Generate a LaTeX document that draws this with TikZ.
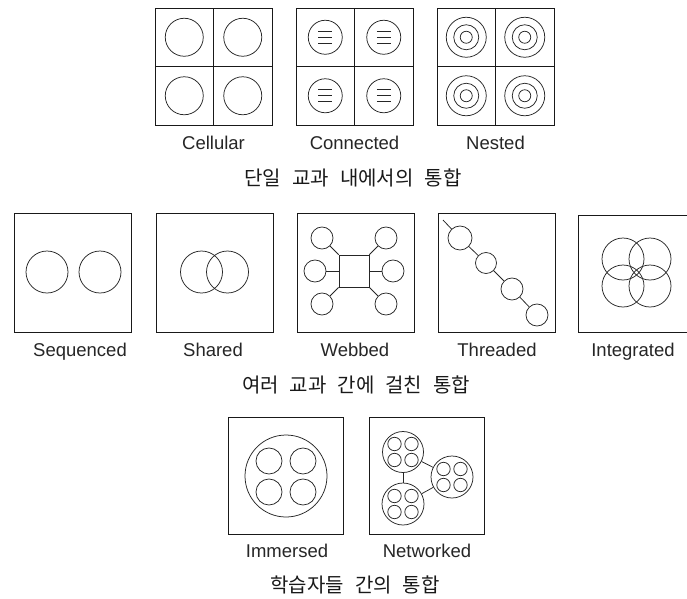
\documentclass[tikz,border=0pt]{standalone}
\usepackage{fontspec}
\setmainfont{Liberation Sans}
\newfontfamily\kr{Noto Sans CJK KR}
\newcommand\ksp{\hspace{11pt}}
\begin{document}
\begin{tikzpicture}[x=1pt,y=-1pt,
  frame/.style={draw=black!90,line width=0.9pt},
  ring/.style={draw=black!85,line width=0.75pt,circle,inner sep=0pt,minimum size=#1},
  arc/.style={draw=black!85,line width=0.75pt},
  link/.style={draw=black!85,line width=0.75pt},
  lbl/.style={font=\fontsize{18.5}{20}\selectfont,anchor=base,text=black!85,inner sep=0pt},
  ttl/.style={font=\kr\fontsize{20}{22}\selectfont,anchor=base,inner sep=0pt,text=black!90}]
\useasboundingbox (0,0) rectangle (687,598);
\fill[white] (0,0) rectangle (687,598);

% ---------- top row: frames with four cells ----------
\foreach \x in {155,296,437}{
  \draw[frame] (\x,8) rectangle (\x+117,125);
  \draw[frame] (\x+58.5,8) -- (\x+58.5,125);
  \draw[frame] (\x,66.5) -- (\x+117,66.5);
}
% Cellular
\foreach \dx in {29.25,87.75}\foreach \dy in {37.25,95.75}{
  \draw[arc] (155+\dx,\dy) circle[radius=19];
}
% Connected
\foreach \dx in {29.25,87.75}\foreach \dy in {37.25,95.75}{
  \draw[arc] (296+\dx,\dy) circle[radius=17];
  \foreach \ly in {-6,0,6}{
    \draw[arc] (296+\dx-7,\dy+\ly) -- (296+\dx+7,\dy+\ly);
  }
}
% Nested
\foreach \dx in {29.25,87.75}\foreach \dy in {37.25,95.75}{
  \draw[arc] (437+\dx,\dy) circle[radius=20];
  \draw[arc] (437+\dx,\dy) circle[radius=12.5];
  \draw[arc] (437+\dx,\dy) circle[radius=6];
}
\node[lbl] (lcel) at (213.5,149) {Cellular};
\node[lbl] (lcon) at (354.5,149) {Connected};
\node[lbl] (lnes) at (495.5,149) {Nested};
\node[ttl] (t1) at (353,185) {단일\ksp 교과\ksp 내에서의\ksp 통합};

% ---------- middle row ----------
\foreach \x in {14,156,297,438}{
  \draw[frame] (\x,213) rectangle (\x+117,332);
}
\draw[frame] (687,215) -- (578,215) -- (578,332) -- (687,332);
% Sequenced
\draw[arc] (47,272) circle[radius=21];
\draw[arc] (100,272) circle[radius=21];
% Shared
\draw[arc] (201.5,272) circle[radius=21];
\draw[arc] (227.5,272) circle[radius=21];
% Webbed
\node[draw=black!85,line width=0.75pt,minimum width=30pt,minimum height=32pt,inner sep=0pt] (hub) at (354,271) {};
\node[ring=22pt] (wtl) at (322,238) {};
\node[ring=22pt] (wtr) at (386,238) {};
\node[ring=22pt] (wml) at (315,271) {};
\node[ring=22pt] (wmr) at (393,271) {};
\node[ring=22pt] (wbl) at (322,304) {};
\node[ring=22pt] (wbr) at (386,304) {};
\draw[link] (hub.north west) -- (wtl);
\draw[link] (hub.north east) -- (wtr);
\draw[link] (hub.west) -- (wml);
\draw[link] (hub.east) -- (wmr);
\draw[link] (hub.south west) -- (wbl);
\draw[link] (hub.south east) -- (wbr);
% Threaded
\coordinate (ts) at (443,220);
\node[ring=24pt] (th1) at (460,238) {};
\node[ring=21pt] (th2) at (486,263) {};
\node[ring=22pt] (th3) at (512,289) {};
\node[ring=22pt] (th4) at (537,315) {};
\draw[link] (ts) -- (th1);
\draw[link] (th1) -- (th2);
\draw[link] (th2) -- (th3);
\draw[link] (th3) -- (th4);
% Integrated
\foreach \cx in {623,650}\foreach \cy in {259,286}{
  \draw[arc] (\cx,\cy) circle[radius=21];
}
\node[lbl] (lseq) at (80,356) {Sequenced};
\node[lbl] (lsha) at (213,356) {Shared};
\node[lbl] (lweb) at (355,356) {Webbed};
\node[lbl] (lthr) at (497,356) {Threaded};
\node[lbl] (lint) at (633,356) {Integrated};
\node[ttl] (t2) at (356,392) {여러\ksp 교과\ksp 간에\ksp 걸친\ksp 통합};

% ---------- bottom row ----------
\draw[frame] (228,417) rectangle (343,534);
\draw[frame] (369,417) rectangle (484,534);
% Immersed
\draw[arc] (286,476) circle[radius=41];
\foreach \cx in {269,303}\foreach \cy in {461,492}{
  \draw[arc] (\cx,\cy) circle[radius=13];
}
% Networked
\node[ring=41pt] (na) at (403,452) {};
\node[ring=42pt] (nb) at (452,477) {};
\node[ring=42pt] (nc) at (403,504) {};
\foreach \c in {na,nb,nc}{
  \foreach \dx in {-8.5,8.5}\foreach \dy in {-8,8}{
    \draw[arc] ([shift={(\dx,\dy)}]\c.center) circle[radius=6.7];
  }
}
\draw[link] (na) -- (nb);
\draw[link] (na) -- (nc);
\draw[link] (nc) -- (nb);
\node[lbl] (limm) at (287,557) {Immersed};
\node[lbl] (lnet) at (427,557) {Networked};
\node[ttl] (t3) at (355,592) {학습자들\ksp 간의\ksp 통합};
\end{tikzpicture}
\end{document}
